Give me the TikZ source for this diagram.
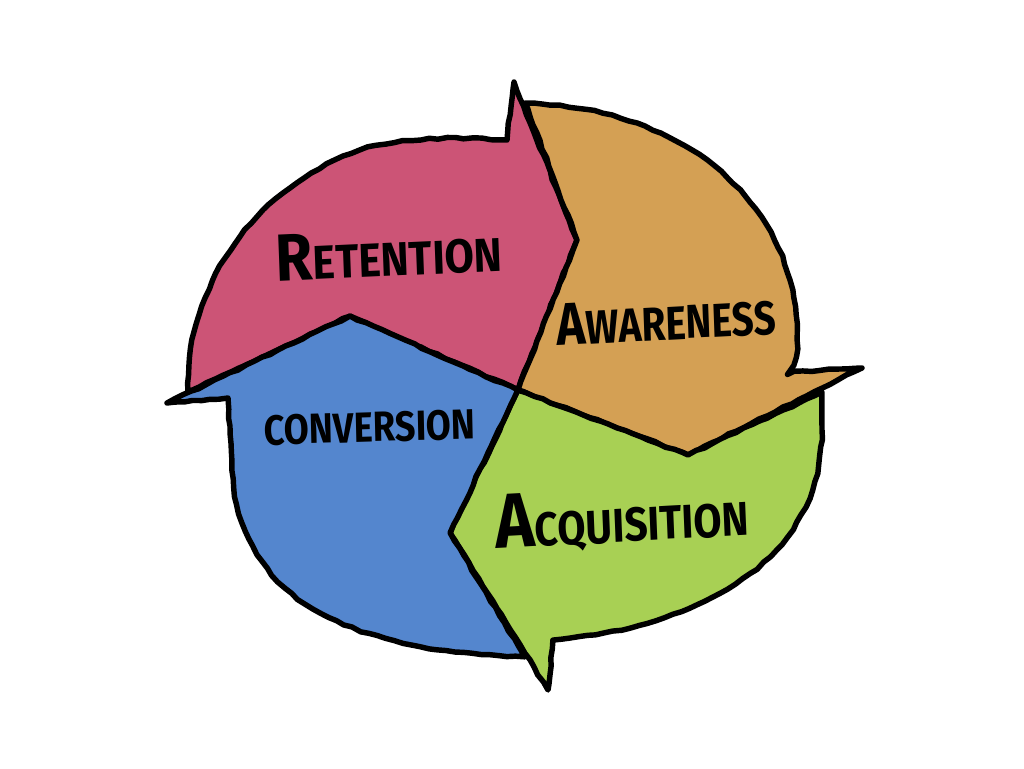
\documentclass[tikz,border=0pt]{standalone}
\usepackage{fontspec}
\setmainfont{Fira Sans}
\usetikzlibrary{decorations.pathmorphing}
\definecolor{cred}{HTML}{CC5476}
\definecolor{corange}{HTML}{D4A054}
\definecolor{cblue}{HTML}{5486CE}
\definecolor{cgreen}{HTML}{A8D054}
\begin{document}
\begin{tikzpicture}[x=0.02cm,y=-0.02cm,
  outline/.style={draw=black, line width=3.1pt, line join=round, line cap=round,
    decorate, decoration={random steps, segment length=5pt, amplitude=0.5pt}},
  region/.style={fill=#1, postaction={outline}},
  lbl/.style={font=\bfseries\fontsize{27}{27}\selectfont, anchor=base, inner sep=0pt}]
\useasboundingbox (0,0) rectangle (1024,768);
% key points
\coordinate (C) at (518,390);
\coordinate (redtip) at (577,240);
\coordinate (redbarb) at (514,82);
\coordinate (bluetip) at (350,316);
\coordinate (bluebarb) at (167,403);
\coordinate (orgtip) at (688,455);
\coordinate (orgbarb) at (862,368);
\coordinate (grntip) at (450,533);
\coordinate (grnbarb) at (548,690);
% Retention (red)
\path[region=cred] (188,392) .. controls (186,290) and (250,190) .. (360,150)
  .. controls (410,135) and (460,138) .. (507,140) -- (redbarb) -- (redtip) -- (C)
  -- (bluetip) -- cycle;
% Awareness (orange)
\path[region=corange] (525,103) .. controls (690,108) and (800,210) .. (797,340)
  .. controls (797,360) and (795,368) .. (785,372) -- (orgbarb) -- (orgtip) -- (C)
  -- (redtip) -- cycle;
% Acquisition (green)
\path[region=cgreen] (822,392) -- (822,430) .. controls (822,560) and (700,628) .. (553,640)
  -- (grnbarb) -- (grntip) -- (C) -- (orgtip) -- cycle;
% Conversion (blue)
\path[region=cblue] (bluetip) -- (C) -- (grntip) -- (525,657)
  .. controls (330,650) and (240,590) .. (232,470) -- (228,398) -- (bluebarb) -- cycle;
% labels
\node[lbl, xscale=0.9, rotate=2.4] (ret) at (390,276) {{\fontsize{38}{38}\selectfont R}ETENTION};
\node[lbl, xscale=0.82, rotate=2.5] (awa) at (667,340) {{\fontsize{34}{34}\selectfont A}WARENESS};
\node[lbl, xscale=0.86, rotate=1.5, font=\bfseries\fontsize{24}{24}\selectfont] (con) at (370,442) {CONVERSION};
\node[lbl, xscale=0.86, rotate=2.7] (acq) at (623,542) {{\fontsize{44}{44}\selectfont A}CQUISITION};
\end{tikzpicture}
\end{document}
